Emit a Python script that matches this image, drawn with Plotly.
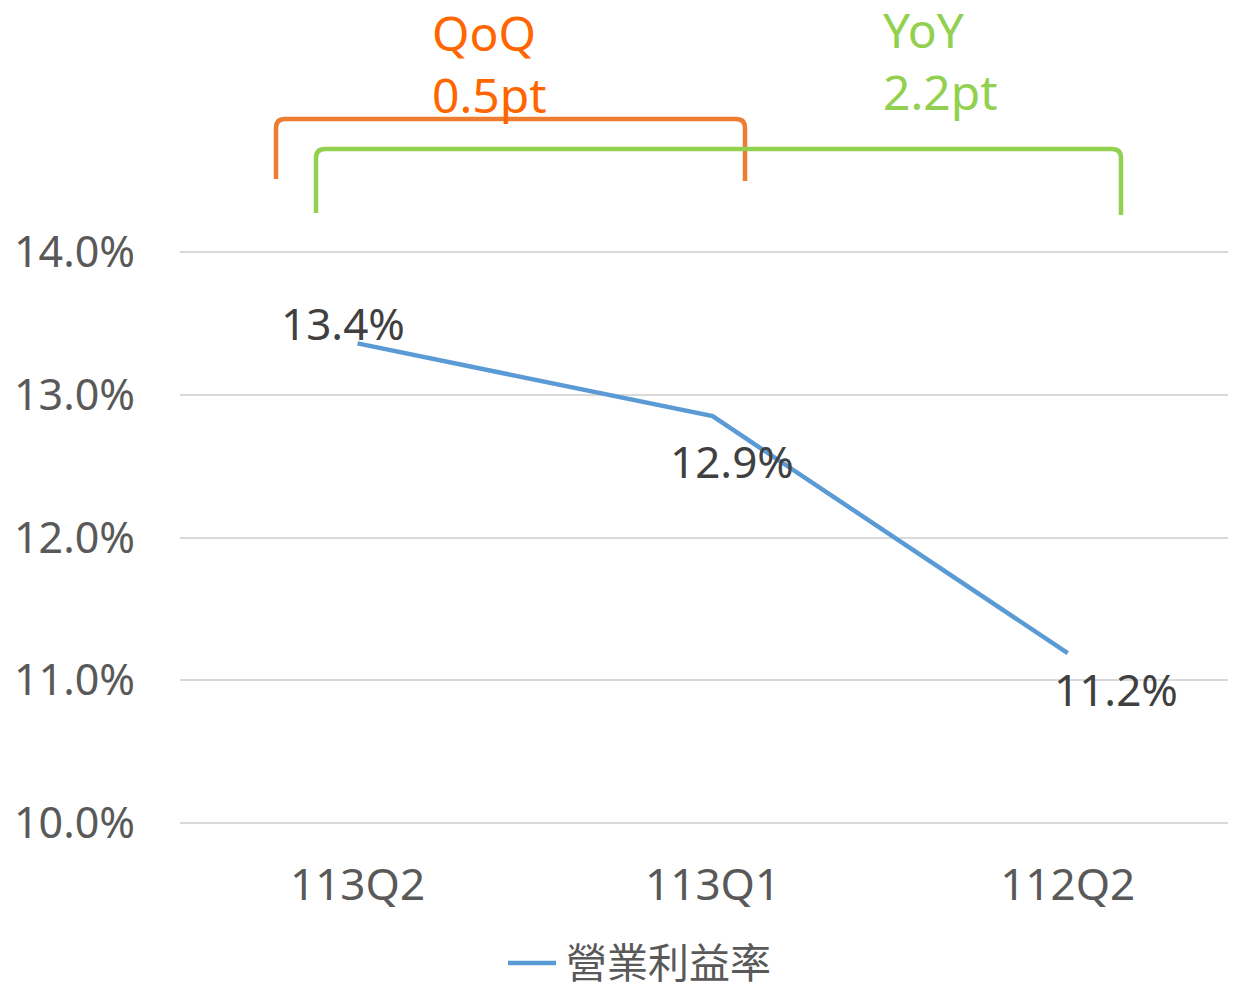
import plotly.graph_objects as go

categories = ["113Q2", "113Q1", "112Q2"]
margin_values = [13.36, 12.85, 11.19]
label_texts = ["13.4%", "12.9%", "11.2%"]
series_name = "營業利益率"
y_ticks = [10, 11, 12, 13, 14]
y_tick_labels = ["10.0%", "11.0%", "12.0%", "13.0%", "14.0%"]

# page body has an 8px margin: build the figure in page pixels minus that offset
O = 8
W, H = 1236 - O, 982 - O
Y_TOP_PX, Y_BOT_PX = 252 - O, 823 - O        # where 14% and 10% sit
PAD = 4                                       # keep edge gridlines inside the plot
L, R = 180 - O, 0
T = Y_TOP_PX - PAD
B = H - (Y_BOT_PX + PAD)
PW, PH = W - L - R, H - T - B
UNIT = (Y_BOT_PX - Y_TOP_PX) / (y_ticks[-1] - y_ticks[0])
Y_RANGE = [y_ticks[0] - PAD / UNIT, y_ticks[-1] + PAD / UNIT]

FONT = "Noto Sans, Noto Sans CJK TC, sans-serif"
LINE_COLOR = "#5B9BD5"

fig = go.Figure()
fig.add_trace(go.Scatter(
    x=categories, y=margin_values, mode="lines", name=series_name,
    line=dict(color=LINE_COLOR, width=4.5), showlegend=False,
))

# data labels
offsets = [(-15, 20), (19, -45), (48, -36)]
for c, v, t, (dx, dy) in zip(categories, margin_values, label_texts, offsets):
    fig.add_annotation(x=c, y=v, text=t, showarrow=False, xshift=dx, yshift=dy,
                       font=dict(family=FONT, size=44, color="#404040"))

def px(x):
    return (x - O - L) / PW

def py(y):
    return (H - B - (y - O)) / PH

def bracket(x0, x1, ytop, yl, yr, r=9):
    return (f"M {px(x0)},{py(yl)} L {px(x0)},{py(ytop + r)} "
            f"Q {px(x0)},{py(ytop)} {px(x0 + r)},{py(ytop)} "
            f"L {px(x1 - r)},{py(ytop)} Q {px(x1)},{py(ytop)} {px(x1)},{py(ytop + r)} "
            f"L {px(x1)},{py(yr)}")

fig.add_shape(type="path", xref="paper", yref="paper",
              path=bracket(276, 745, 119, 179, 181), line=dict(color="#ED7D31", width=4.5))
fig.add_shape(type="path", xref="paper", yref="paper",
              path=bracket(316, 1121, 149, 213, 215), line=dict(color="#92D050", width=4.5))

def label(x, y, text, color, size=48):
    fig.add_annotation(xref="paper", yref="paper", x=px(x), y=py(y), xanchor="left",
                       yanchor="middle", text=text, align="left", showarrow=False,
                       font=dict(family=FONT, size=size, color=color))

label(430, 63, "QoQ<br>0.5pt", "#FF6600")
label(881, 60, "YoY<br>2.2pt", "#92D050")

# legend (drawn manually to match the longer line sample)
fig.add_shape(type="line", xref="paper", yref="paper",
              x0=px(508), x1=px(556), y0=py(963), y1=py(963),
              line=dict(color=LINE_COLOR, width=4.5))
fig.add_annotation(xref="paper", yref="paper", x=px(564), y=py(960), xanchor="left",
                   yanchor="middle", text=series_name, showarrow=False,
                   font=dict(family="Noto Sans CJK TC, sans-serif", size=41, color="#595959"))

fig.update_layout(
    width=W, height=H,
    margin=dict(l=L, r=R, t=T, b=B),
    paper_bgcolor="white", plot_bgcolor="white",
    font=dict(family=FONT),
    showlegend=False,
    xaxis=dict(range=[-0.5, 2.474], showgrid=False, zeroline=False, showline=False,
               ticks="", tickfont=dict(family=FONT, size=44, color="#595959"),
               ticklabelstandoff=28),
    yaxis=dict(range=Y_RANGE, tickvals=y_ticks, ticktext=y_tick_labels,
               showgrid=True, gridcolor="#D9D9D9", gridwidth=2, zeroline=False,
               showline=False, ticks="", tickfont=dict(family=FONT, size=43, color="#595959"),
               ticklabelstandoff=44),
)

fig.write_html("out.html")
